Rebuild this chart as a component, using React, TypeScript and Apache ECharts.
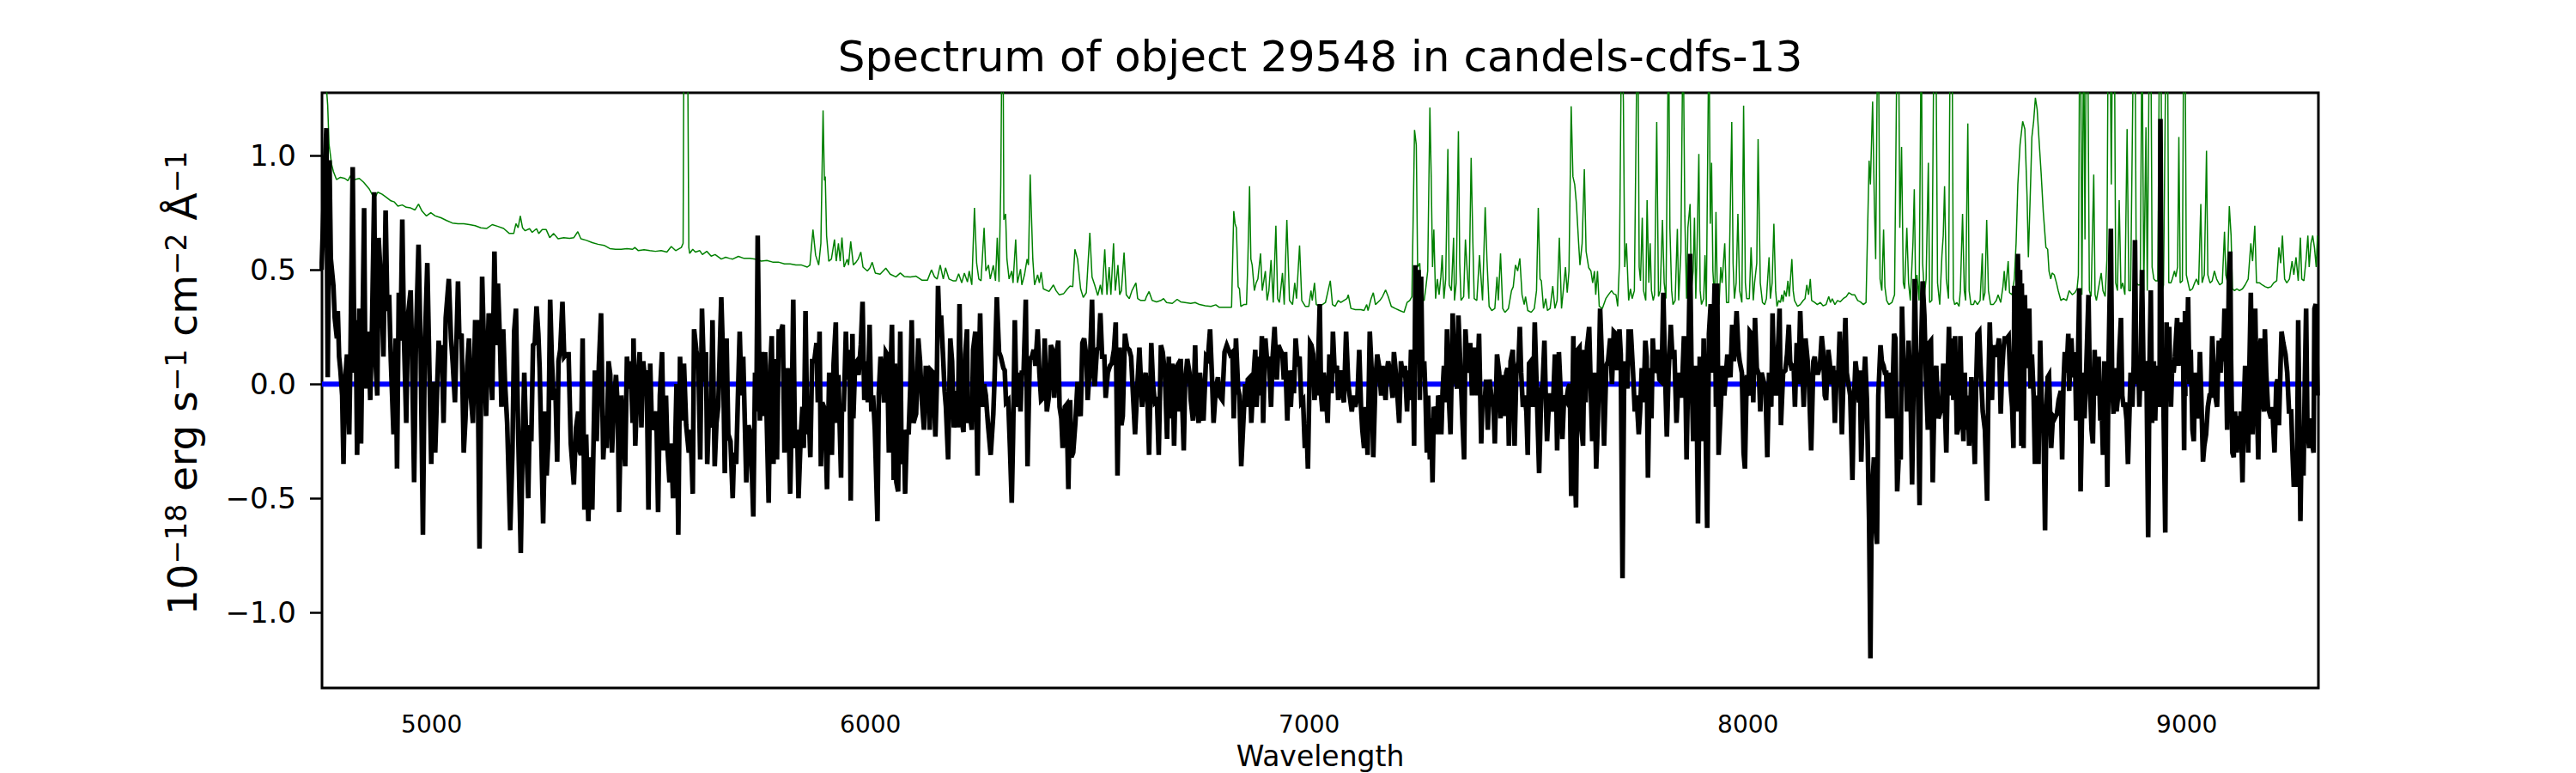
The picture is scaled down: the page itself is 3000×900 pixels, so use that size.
import React, { useEffect, useRef } from "react";
import * as echarts from "echarts";

const titleText = "Spectrum of object 29548 in candels-cdfs-13";
const xLabelText = "Wavelength";
const xTicks = [5000, 6000, 7000, 8000, 9000];
const yTicks = [-1.0, -0.5, 0.0, 0.5, 1.0];
const xRange = [4750, 9300];
const yRange = [-1.33, 1.275];
const zeroLine: [number, number][] = [[4750, 0], [9300, 0]];

// observed flux (black), [wavelength, flux]
const fluxSeg1: [number, number][] = [[4749,0.5],[4757,0.98],[4760,1.12],[4763,0.03],[4765,0.45],[4767,0.98],[4770,0.55],[4776,0.43],[4779,0.29],[4784,0.2],[4786,0.32],[4789,0.12],[4792,0.06],[4796,-0.05],[4799,-0.35],[4802,0.0],[4807,0.13],[4812,-0.22],[4815,0.15],[4820,0.95],[4824,0.05],[4827,0.28],[4830,-0.31],[4835,0.33],[4839,-0.26],[4843,0.33],[4846,0.77],[4849,-0.02],[4852,0.17],[4856,0.23],[4860,-0.07],[4864,0.25],[4869,0.84],[4872,0.1],[4876,-0.05],[4879,0.64],[4883,0.5],[4887,0.32],[4890,0.12],[4895,0.76],[4899,0.32],[4903,0.39],[4907,0.1],[4913,-0.22],[4918,0.2],[4921,-0.37],[4925,0.4],[4929,0.19],[4933,0.72],[4937,0.19],[4942,-0.17],[4946,0.3],[4952,0.41],[4955,0.16],[4960,-0.43],[4964,0.18],[4970,0.61],[4975,0.13],[4980,-0.66],[4984,0.14],[4990,0.53],[4995,0.04],[4999,-0.35],[5003,0.01],[5008,-0.3],[5013,0.02],[5016,0.19],[5019,0.11],[5023,0.17],[5027,-0.17],[5032,0.29],[5039,0.46],[5044,0.2],[5048,0.09],[5053,-0.08],[5060,0.45],[5063,0.2],[5068,0.22],[5073,-0.3],[5077,-0.15],[5081,0.08],[5085,0.2],[5089,-0.05],[5094,-0.17],[5099,0.27],[5104,0.27],[5109,-0.72],[5115,0.47],[5120,0.1],[5124,-0.14],[5130,0.31],[5134,0.09],[5138,-0.07],[5143,0.58],[5147,0.17],[5151,0.44],[5156,0.16],[5159,-0.1],[5163,0.24],[5167,0.01],[5172,-0.17],[5179,-0.64],[5184,-0.3],[5188,0.23],[5192,0.33],[5197,-0.2],[5203,-0.74],[5207,-0.28],[5211,0.05],[5215,-0.22],[5220,-0.5],[5223,-0.18],[5227,-0.25],[5231,0.17],[5235,0.18],[5239,0.34],[5243,0.22],[5246,0.07],[5250,-0.27],[5254,-0.61],[5259,-0.12],[5262,-0.4],[5266,-0.24],[5270,0.37],[5274,0.1],[5278,-0.07],[5282,-0.02],[5286,-0.34],[5289,0.1],[5293,0.15],[5298,0.36],[5302,0.12],[5306,0.13],[5312,0.13],[5317,-0.26],[5324,-0.44],[5329,-0.19],[5334,-0.12],[5337,-0.29],[5340,-0.31],[5344,0.2],[5348,-0.55],[5352,-0.22],[5357,-0.6],[5361,-0.32],[5366,-0.55],[5372,0.06],[5376,-0.25],[5381,0.08],[5386,0.31],[5391,-0.33],[5396,-0.14],[5399,-0.28],[5403,0.1],[5407,0.04],[5411,-0.3],[5415,-0.1],[5420,0.04],[5424,-0.1],[5427,-0.56],[5432,-0.05],[5437,-0.22],[5441,-0.36],[5445,0.12],[5449,-0.02],[5453,0.1],[5458,-0.17],[5460,0.2],[5464,-0.27],[5469,0.01],[5474,0.14],[5478,-0.19],[5482,0.1],[5486,0.02],[5490,0.06],[5494,-0.55],[5498,0.09],[5502,-0.2],[5507,-0.17],[5512,-0.12],[5516,-0.56],[5520,-0.05],[5525,0.14],[5529,-0.29],[5534,-0.05],[5537,-0.27],[5542,-0.43],[5546,-0.26],[5550,-0.5],[5554,-0.35],[5558,0.0],[5562,-0.66],[5566,0.12],[5571,-0.16],[5575,0.09],[5580,-0.18],[5586,-0.3],[5590,-0.2],[5595,-0.48],[5598,0.24],[5603,0.15],[5608,0.08],[5612,-0.33],[5616,0.33],[5621,0.01],[5625,0.14],[5628,-0.35],[5632,-0.12],[5636,-0.19],[5640,0.28],[5645,-0.36],[5649,-0.17],[5653,-0.1],[5660,0.38],[5664,0.12],[5668,-0.39],[5672,0.2],[5676,-0.22]];

const fluxSeg2: [number, number][] = [[5681,-0.25],[5686,-0.5],[5689,-0.3],[5694,-0.35],[5698,-0.05],[5702,0.23],[5706,-0.05],[5710,0.12],[5717,-0.43],[5722,-0.18],[5727,-0.22],[5733,-0.58],[5737,0.05],[5740,-0.12],[5743,0.65],[5748,-0.16],[5751,0.14],[5756,-0.14],[5760,0.14],[5768,-0.52],[5772,0.08],[5775,0.21],[5779,-0.35],[5784,0.11],[5787,-0.33],[5791,0.23],[5796,0.23],[5800,0.26],[5804,-0.3],[5807,-0.15],[5811,0.07],[5817,-0.48],[5820,-0.2],[5824,0.37],[5828,-0.28],[5833,-0.2],[5836,-0.5],[5841,-0.23],[5845,-0.1],[5848,-0.28],[5852,0.32],[5856,-0.22],[5859,-0.1],[5863,-0.32],[5867,0.1],[5872,0.1],[5877,0.18],[5880,-0.08],[5884,0.23],[5887,-0.36],[5890,-0.08],[5894,-0.1],[5898,-0.25],[5901,-0.46],[5906,0.05],[5910,-0.2],[5912,-0.31],[5916,0.09],[5921,0.27],[5924,-0.17],[5927,0.04],[5933,-0.41],[5935,-0.1],[5939,-0.12],[5944,0.23],[5947,0.02],[5952,0.15],[5955,-0.51],[5959,0.22],[5961,-0.15],[5965,0.09],[5969,0.1],[5973,0.04],[5978,0.17],[5982,0.36],[5986,-0.07],[5989,0.1],[5994,-0.08],[5998,0.26],[6002,-0.12],[6006,-0.05],[6010,-0.2],[6016,-0.6],[6019,-0.04],[6023,0.12],[6027,0.05],[6031,-0.08],[6035,0.14],[6038,0.13],[6042,-0.3],[6045,0.0],[6049,0.26],[6053,-0.42],[6056,0.09],[6059,-0.43],[6063,-0.47],[6068,0.23],[6071,-0.35],[6076,-0.2],[6079,-0.48],[6083,-0.2],[6087,-0.22],[6091,0.0],[6094,0.28],[6098,-0.17],[6104,-0.13],[6109,0.2],[6113,0.1],[6117,-0.07],[6122,-0.2],[6126,0.07],[6131,0.07],[6135,-0.2],[6138,0.06],[6143,0.05],[6148,-0.23],[6151,-0.02],[6154,0.43],[6158,0.21],[6161,0.3],[6166,0.1],[6169,-0.03],[6172,-0.1],[6177,-0.33],[6182,0.2],[6186,0.1],[6190,-0.19],[6195,-0.03],[6199,-0.19],[6203,0.35],[6207,-0.15],[6212,-0.21],[6216,0.13],[6220,0.24],[6222,-0.17],[6226,-0.12],[6231,-0.2],[6234,0.15],[6239,0.23],[6244,-0.4],[6247,0.05],[6250,0.31],[6255,-0.1],[6259,0.0],[6263,-0.05],[6268,-0.18],[6274,-0.31],[6280,-0.13],[6283,0.03],[6288,0.38],[6293,0.14],[6297,0.12],[6303,0.07],[6306,0.06],[6309,-0.08],[6314,-0.07],[6318,-0.28],[6322,-0.52],[6325,-0.23],[6329,0.28],[6333,-0.1],[6338,0.05],[6342,-0.12],[6345,0.05],[6349,0.05],[6354,0.37],[6358,-0.36],[6363,0.11],[6368,0.12],[6372,0.15],[6376,0.08],[6381,0.24],[6385,0.05],[6389,-0.07],[6394,-0.06],[6397,0.2],[6402,-0.12],[6407,-0.05],[6411,0.17],[6415,0.15],[6419,-0.06],[6423,0.12],[6428,0.19],[6431,-0.1],[6435,-0.15],[6438,-0.28],[6443,-0.1],[6447,-0.09],[6451,-0.46],[6455,-0.07],[6458,-0.32],[6462,-0.3],[6467,-0.17],[6472,0.01],[6475,-0.1],[6479,-0.14],[6483,0.18],[6487,0.2],[6492,0.12],[6495,-0.07],[6500,0.08],[6505,0.37],[6508,0.05],[6511,-0.01],[6516,0.15],[6520,0.16],[6524,0.31],[6528,0.12],[6533,0.12],[6536,-0.06],[6541,0.05],[6546,0.08],[6550,0.09],[6555,0.15],[6559,0.27],[6563,-0.4],[6568,0.16],[6572,-0.18],[6575,-0.14],[6580,0.22],[6585,0.16],[6590,0.15],[6594,0.12]];

const fluxSeg3: [number, number][] = [[6603,-0.22],[6609,0.02],[6613,0.16],[6619,-0.1],[6622,-0.05],[6627,0.05],[6631,-0.05],[6635,-0.31],[6640,0.18],[6644,0.0],[6648,-0.08],[6653,-0.07],[6657,-0.31],[6662,0.17],[6666,0.14],[6671,0.05],[6676,-0.24],[6680,0.12],[6683,-0.15],[6688,0.09],[6692,-0.27],[6696,0.07],[6699,0.08],[6704,-0.12],[6707,0.11],[6710,-0.05],[6714,-0.29],[6717,0.0],[6722,0.11],[6727,0.05],[6730,-0.07],[6735,-0.16],[6740,0.17],[6743,-0.08],[6748,-0.17],[6751,0.05],[6755,-0.05],[6759,-0.16],[6765,0.12],[6769,0.11],[6774,0.24],[6778,0.05],[6782,-0.17],[6787,-0.02],[6792,0.03],[6795,-0.05],[6802,-0.07],[6807,0.14],[6812,0.17],[6816,0.15],[6820,0.13],[6825,0.14],[6828,-0.15],[6833,0.2],[6838,-0.02],[6841,-0.05],[6845,-0.36],[6849,-0.2],[6854,0.0],[6857,-0.1],[6860,0.02],[6865,0.03],[6868,-0.17],[6874,0.06],[6877,0.15],[6880,-0.1],[6885,0.12],[6888,-0.05],[6892,0.21],[6895,-0.17],[6900,0.2],[6904,0.1],[6908,0.12],[6913,-0.1],[6916,0.1],[6921,0.25],[6926,0.02],[6930,0.17],[6934,0.15],[6939,0.13],[6942,0.02],[6945,0.14],[6950,-0.16],[6954,0.06],[6958,-0.1],[6962,0.06],[6965,-0.04],[6969,0.2],[6973,0.1],[6978,0.12],[6982,-0.08],[6986,-0.07],[6990,-0.28],[6994,-0.19],[6997,-0.37],[7002,0.18],[7005,0.17],[7009,0.13],[7012,-0.07],[7016,0.03],[7018,-0.05],[7024,0.35],[7027,-0.05],[7030,-0.12],[7033,0.05],[7037,-0.02],[7042,-0.17],[7046,0.13],[7051,-0.04],[7054,0.23],[7058,0.05],[7063,0.08],[7066,-0.07],[7071,0.06],[7074,-0.02],[7079,-0.08],[7084,0.23],[7089,0.0],[7092,-0.05],[7097,-0.12],[7101,-0.05],[7105,-0.1],[7110,-0.05],[7114,0.15],[7118,-0.1],[7121,-0.2],[7125,-0.28],[7129,-0.1],[7133,-0.31],[7138,0.23],[7142,0.07],[7146,-0.32],[7151,0.02],[7155,0.13],[7159,0.08],[7164,-0.05],[7167,0.08],[7174,-0.07],[7177,0.06],[7180,0.1],[7185,0.04],[7190,-0.06],[7193,0.14],[7196,0.08],[7200,-0.02],[7205,-0.17],[7209,0.1],[7214,0.03],[7218,0.08],[7223,-0.12],[7226,0.06],[7229,-0.07],[7232,0.15],[7236,0.1],[7239,-0.27],[7242,0.52],[7245,0.35],[7249,0.5],[7252,-0.07],[7255,0.47],[7258,0.05],[7262,0.1],[7265,-0.05],[7268,-0.3],[7271,-0.05],[7275,-0.33],[7278,-0.15],[7281,-0.43],[7284,-0.1],[7288,-0.12],[7291,-0.22],[7294,-0.05],[7298,-0.08],[7301,-0.22],[7304,-0.03],[7307,0.08],[7311,-0.08],[7314,0.24],[7318,-0.05],[7322,-0.22],[7327,0.31],[7331,0.05],[7337,-0.02],[7340,0.3],[7345,0.05],[7348,-0.1],[7353,-0.33],[7356,0.24],[7360,0.1],[7363,0.05],[7367,0.18],[7371,-0.05],[7375,0.15],[7378,0.15],[7382,-0.05],[7387,0.22],[7392,-0.26],[7395,-0.05],[7400,-0.08],[7403,0.02],[7407,-0.2],[7411,0.02],[7415,-0.05],[7420,-0.1],[7423,-0.26],[7428,0.13],[7433,0.05],[7436,-0.15],[7440,0.04],[7444,-0.14],[7449,0.05],[7452,0.07],[7455,-0.27],[7459,0.1],[7464,0.15],[7468,-0.27],[7472,0.05],[7477,0.1],[7480,0.25],[7483,0.05],[7487,-0.1],[7491,-0.05],[7495,-0.12],[7498,-0.31],[7501,0.09],[7505,0.1],[7510,-0.1],[7514,0.27]];

const fluxSeg4: [number, number][] = [[7524,-0.39],[7529,-0.02],[7532,0.0],[7536,0.19],[7539,-0.05],[7542,-0.25],[7547,-0.05],[7550,-0.05],[7555,-0.12],[7560,0.13],[7563,-0.05],[7565,-0.29],[7569,0.14],[7573,-0.03],[7577,-0.24],[7581,-0.05],[7586,-0.07],[7590,-0.02],[7594,0.0],[7597,-0.49],[7602,0.21],[7605,-0.34],[7608,-0.54],[7612,0.15],[7616,0.16],[7619,-0.17],[7624,-0.27],[7627,0.15],[7630,-0.08],[7633,0.16],[7638,0.25],[7642,-0.05],[7645,-0.25],[7650,0.05],[7654,-0.37],[7658,-0.15],[7663,0.33],[7668,0.05],[7672,-0.27],[7677,0.08],[7681,0.1],[7686,0.2],[7690,0.0],[7694,0.23],[7699,0.22],[7702,0.06],[7707,0.24],[7710,0.13],[7714,-0.85],[7718,0.1],[7721,0.05],[7725,-0.02],[7728,0.23],[7733,0.23],[7738,0.05],[7742,-0.12],[7746,-0.05],[7751,-0.22],[7754,-0.12],[7758,0.07],[7762,-0.08],[7766,0.19],[7769,0.12],[7772,-0.41],[7776,0.07],[7780,-0.15],[7783,0.2],[7787,0.05],[7791,0.07],[7794,0.15],[7798,0.02],[7803,0.01],[7807,0.4],[7811,0.05],[7815,-0.23],[7819,0.05],[7824,0.26],[7828,0.11],[7832,0.15],[7837,-0.17],[7842,0.05],[7845,-0.05],[7849,-0.05],[7854,0.21],[7857,0.06],[7860,-0.33],[7864,0.1],[7868,0.57],[7871,0.1],[7875,-0.25],[7878,-0.05],[7881,0.08],[7884,-0.25],[7886,-0.61],[7890,0.12],[7892,-0.12],[7896,-0.25],[7899,0.2],[7903,-0.15],[7907,-0.63],[7911,0.22],[7915,0.35],[7919,0.05],[7924,0.44],[7927,-0.1],[7930,0.44],[7933,-0.31],[7938,-0.1],[7942,0.08],[7946,-0.05],[7950,0.05],[7953,0.13],[7956,0.07],[7960,0.03],[7964,0.26],[7968,0.1],[7971,0.2],[7974,0.32],[7978,0.15],[7981,0.1],[7986,0.05],[7990,-0.3],[7993,-0.37],[7997,0.04],[8001,-0.05],[8004,0.23],[8008,0.22],[8012,-0.08],[8016,0.29],[8020,0.07],[8025,0.04],[8028,-0.12],[8031,0.05],[8036,0.01],[8040,-0.03],[8044,-0.32],[8048,0.05],[8053,-0.1],[8056,0.31],[8059,0.05],[8064,-0.05],[8067,0.09],[8072,0.33],[8075,-0.18],[8080,0.05],[8085,0.06],[8089,0.13],[8093,0.26],[8096,0.1],[8100,0.06],[8104,0.09],[8107,-0.1],[8111,0.18],[8115,0.0],[8119,0.32],[8124,0.05],[8127,-0.1],[8131,0.2],[8136,0.1],[8139,0.0],[8144,-0.29],[8149,0.1],[8152,0.12],[8156,0.05],[8160,0.05],[8164,0.08],[8168,0.21],[8171,0.15],[8175,-0.05],[8178,-0.07],[8183,0.15],[8186,0.1],[8190,0.0],[8194,0.08],[8198,-0.17],[8202,0.05],[8206,0.05],[8209,0.23],[8214,-0.22],[8218,0.06],[8222,0.29],[8225,0.05],[8229,0.0],[8233,-0.05],[8238,-0.42],[8241,-0.1],[8245,0.1],[8248,0.05],[8253,-0.08],[8255,0.06],[8258,-0.34],[8263,-0.02],[8267,0.12],[8271,-0.07],[8276,-0.6],[8279,-1.2],[8282,-0.5],[8287,-0.32],[8291,-0.62],[8294,-0.7],[8297,-0.05],[8302,0.17],[8305,0.1],[8309,0.08],[8312,0.05],[8315,0.05],[8318,-0.15],[8321,0.05],[8325,-0.05],[8328,-0.15],[8333,0.22],[8336,0.2],[8340,-0.47],[8344,-0.3],[8348,-0.33],[8351,0.34],[8355,0.05],[8359,0.11],[8362,-0.12],[8366,0.19],[8370,0.0],[8374,-0.44],[8378,0.09],[8380,0.46],[8383,0.15],[8387,0.05],[8391,-0.53],[8394,0.1],[8398,0.45],[8402,0.3],[8406,0.0],[8410,-0.2],[8413,0.18],[8417,0.19],[8421,-0.43],[8426,0.05],[8429,0.08],[8434,-0.15]];

const fluxSeg5: [number, number][] = [[8442,-0.1],[8445,0.09],[8448,-0.05],[8452,-0.3],[8455,0.02],[8458,0.25],[8461,-0.05],[8465,0.2],[8468,-0.07],[8472,0.21],[8476,-0.22],[8481,-0.18],[8484,0.21],[8487,-0.05],[8491,-0.25],[8494,0.05],[8497,-0.2],[8501,-0.05],[8504,-0.27],[8509,0.03],[8514,-0.2],[8517,-0.35],[8520,0.0],[8523,0.22],[8527,0.23],[8530,0.08],[8535,-0.12],[8540,-0.2],[8545,-0.51],[8548,0.0],[8551,0.27],[8556,-0.07],[8559,0.17],[8564,0.12],[8569,0.16],[8572,0.2],[8576,-0.13],[8579,0.05],[8582,0.15],[8585,0.2],[8590,0.2],[8594,0.21],[8598,0.0],[8602,-0.1],[8605,-0.28],[8607,0.43],[8609,0.16],[8612,-0.12],[8615,0.57],[8618,0.15],[8620,0.5],[8623,-0.27],[8624,0.44],[8628,-0.28],[8631,0.39],[8634,0.07],[8638,0.22],[8641,0.33],[8644,-0.02],[8647,0.13],[8651,-0.05],[8654,-0.35],[8658,-0.05],[8662,-0.35],[8666,0.19],[8670,-0.14],[8673,-0.1],[8677,-0.64],[8680,-0.1],[8683,0.03],[8686,0.04],[8691,-0.28],[8695,-0.14],[8699,-0.15],[8704,-0.13],[8708,-0.07],[8713,-0.03],[8716,-0.33],[8719,0.0],[8722,0.14],[8726,0.05],[8730,0.22],[8732,-0.03],[8737,0.2],[8741,0.03],[8745,0.14],[8748,-0.16],[8752,0.1],[8755,0.42],[8758,-0.47],[8763,0.05],[8767,-0.15],[8771,0.07],[8776,0.39],[8779,0.0],[8783,-0.2],[8786,-0.26],[8790,0.15],[8793,-0.05],[8796,0.05],[8799,0.12],[8803,-0.16],[8806,-0.1],[8809,-0.31],[8812,0.1],[8816,0.0],[8819,-0.45],[8822,0.12],[8827,0.68],[8830,0.0],[8833,-0.13],[8836,0.07],[8840,-0.12],[8843,-0.06],[8846,0.13],[8850,0.29],[8853,-0.05],[8856,-0.1],[8859,-0.08],[8863,-0.16],[8866,-0.35],[8869,-0.15],[8872,0.05],[8876,-0.1],[8879,0.08],[8882,0.63],[8885,0.0],[8889,0.12],[8892,-0.1],[8895,0.1],[8898,0.5],[8902,-0.03],[8905,0.08],[8908,0.1],[8912,-0.67],[8915,0.07],[8918,0.41],[8921,-0.17],[8925,0.1],[8928,-0.16],[8931,0.08],[8934,0.05],[8938,-0.1],[8940,1.16],[8943,0.1],[8947,-0.1],[8951,-0.65],[8954,0.27],[8957,0.05],[8960,0.25],[8964,-0.1],[8967,0.1],[8970,0.05],[8973,0.12],[8978,0.29],[8981,0.08],[8985,0.27],[8988,0.15],[8991,0.27],[8994,-0.29],[8996,0.32],[9000,0.05],[9003,0.38],[9006,0.0],[9009,0.15],[9013,-0.2],[9016,-0.25],[9019,0.05],[9022,-0.1],[9026,-0.15],[9030,0.14],[9033,-0.05],[9037,-0.34],[9040,-0.27],[9044,-0.22],[9048,-0.1],[9052,-0.05],[9055,-0.05],[9058,0.21],[9062,0.05],[9065,-0.05],[9069,-0.1],[9073,0.19],[9077,0.05],[9080,0.2],[9083,0.1],[9086,0.33],[9090,0.05],[9092,-0.2],[9096,0.47],[9099,0.58],[9101,0.1],[9104,-0.3],[9107,-0.32],[9110,-0.12],[9114,-0.3],[9117,-0.14],[9120,-0.27],[9123,-0.12],[9127,-0.43],[9130,-0.1],[9133,0.08],[9137,-0.1],[9140,-0.3],[9143,0.1],[9146,0.4],[9150,-0.22],[9153,0.05],[9156,0.33],[9159,0.0],[9163,-0.33],[9166,0.15],[9169,0.2],[9172,-0.05],[9176,-0.12],[9178,0.24],[9181,0.05],[9185,-0.1],[9192,-0.15],[9195,-0.1],[9200,-0.3],[9204,0.0],[9207,0.02],[9210,-0.18],[9214,0.1],[9216,0.23],[9220,0.18],[9225,0.13],[9229,0.05],[9233,-0.12],[9238,-0.12],[9241,-0.3],[9244,-0.45],[9247,-0.35],[9251,-0.45],[9254,0.28],[9257,-0.22],[9259,-0.6],[9262,-0.2],[9266,-0.4],[9269,0.0],[9272,0.33],[9275,-0.2],[9279,-0.28],[9282,-0.15],[9285,-0.25],[9289,-0.3],[9291,0.33],[9294,0.35],[9298,-0.05]];

// noise / sky spectrum (green), [wavelength, flux]
const noiseSeg1: [number, number][] = [[4752,1.6],[4760,1.3],[4763,1.22],[4766,1.05],[4772,0.96],[4776,0.93],[4783,0.895],[4792,0.905],[4802,0.9],[4809,0.89],[4815,0.912],[4825,0.895],[4835,0.9],[4845,0.883],[4858,0.853],[4864,0.831],[4871,0.817],[4877,0.84],[4887,0.831],[4897,0.817],[4907,0.802],[4915,0.797],[4923,0.779],[4933,0.784],[4942,0.774],[4952,0.771],[4962,0.762],[4970,0.788],[4978,0.757],[4988,0.736],[4998,0.75],[5008,0.736],[5021,0.728],[5034,0.716],[5047,0.705],[5060,0.702],[5073,0.702],[5086,0.698],[5099,0.693],[5112,0.684],[5125,0.681],[5138,0.698],[5151,0.69],[5164,0.681],[5177,0.659],[5187,0.659],[5192,0.702],[5197,0.684],[5202,0.736],[5207,0.684],[5213,0.671],[5223,0.68],[5229,0.664],[5239,0.68],[5244,0.659],[5252,0.676],[5261,0.676],[5269,0.641],[5278,0.659],[5288,0.636],[5301,0.641],[5314,0.638],[5324,0.641],[5333,0.667],[5340,0.636],[5353,0.629],[5366,0.619],[5379,0.612],[5393,0.607],[5406,0.593],[5419,0.59],[5432,0.59],[5445,0.593],[5458,0.59],[5463,0.598],[5471,0.584],[5484,0.588],[5497,0.584],[5510,0.581],[5523,0.584],[5536,0.578],[5546,0.602],[5556,0.584],[5569,0.598],[5573,0.616],[5575,1.6],[5583,1.6],[5586,0.598],[5588,0.572],[5595,0.59],[5601,0.578],[5611,0.584],[5617,0.567],[5627,0.581],[5637,0.56],[5646,0.567],[5660,0.547],[5670,0.555],[5679,0.55]];

const noiseSeg2: [number, number][] = [[5686,0.547],[5699,0.559],[5712,0.55],[5725,0.55],[5738,0.547],[5751,0.538],[5764,0.541],[5777,0.534],[5790,0.534],[5804,0.526],[5817,0.526],[5830,0.521],[5843,0.521],[5856,0.512],[5862,0.521],[5869,0.676],[5875,0.564],[5882,0.521],[5887,0.616],[5892,1.198],[5895,0.891],[5897,0.908],[5900,0.65],[5905,0.538],[5911,0.547],[5918,0.633],[5922,0.538],[5927,0.616],[5931,0.538],[5935,0.641],[5940,0.512],[5947,0.547],[5950,0.521],[5955,0.624],[5961,0.521],[5967,0.533],[5972,0.547],[5978,0.578],[5983,0.512],[5993,0.495],[5999,0.509],[6004,0.533],[6011,0.486],[6022,0.481],[6035,0.507],[6045,0.481],[6058,0.469],[6068,0.486],[6077,0.471],[6091,0.469],[6104,0.472],[6117,0.455],[6130,0.455],[6139,0.5],[6146,0.469],[6152,0.46],[6159,0.521],[6166,0.46],[6171,0.509],[6179,0.46],[6188,0.452],[6195,0.452],[6201,0.483],[6208,0.443],[6214,0.486],[6221,0.447],[6225,0.495],[6231,0.434],[6237,0.771],[6242,0.529],[6247,0.46],[6252,0.452],[6259,0.684],[6263,0.495],[6269,0.521],[6273,0.46],[6280,0.52],[6285,0.452],[6289,0.641],[6293,0.447],[6297,0.874],[6300,1.6],[6302,1.6],[6304,0.719],[6308,0.745],[6311,0.547],[6316,0.46],[6322,0.495],[6325,0.443],[6331,0.633],[6335,0.443],[6342,0.503],[6345,0.434],[6351,0.478],[6357,0.547],[6360,0.521],[6364,0.917],[6370,0.547],[6374,0.434],[6381,0.478],[6385,0.443],[6389,0.49],[6394,0.417],[6407,0.405],[6417,0.434],[6423,0.409],[6430,0.391],[6440,0.395],[6449,0.417],[6455,0.429],[6461,0.426],[6466,0.59],[6472,0.547],[6479,0.417],[6485,0.379],[6492,0.4],[6500,0.662],[6505,0.469],[6511,0.434],[6518,0.388],[6524,0.434],[6528,0.391],[6534,0.59],[6539,0.391],[6544,0.512],[6548,0.391],[6554,0.616],[6558,0.409],[6564,0.521],[6568,0.391],[6572,0.409],[6578,0.576],[6583,0.391],[6590,0.374],[6596,0.409]];

const noiseSeg3: [number, number][] = [[6605,0.443],[6609,0.374],[6616,0.366],[6626,0.366],[6629,0.383],[6635,0.405],[6642,0.366],[6652,0.36],[6662,0.366],[6668,0.374],[6675,0.357],[6688,0.353],[6699,0.371],[6707,0.36],[6717,0.357],[6730,0.353],[6740,0.357],[6750,0.348],[6763,0.343],[6776,0.34],[6787,0.347],[6795,0.336],[6808,0.336],[6823,0.336],[6828,0.757],[6831,0.702],[6834,0.684],[6838,0.426],[6841,0.417],[6844,0.34],[6851,0.348],[6857,0.348],[6860,0.529],[6864,0.866],[6867,0.547],[6870,0.521],[6875,0.409],[6879,0.443],[6883,0.46],[6889,0.572],[6893,0.409],[6900,0.495],[6904,0.366],[6908,0.409],[6913,0.543],[6918,0.357],[6924,0.693],[6928,0.374],[6932,0.357],[6939,0.486],[6943,0.348],[6949,0.719],[6955,0.366],[6962,0.348],[6967,0.443],[6971,0.374],[6978,0.607],[6983,0.366],[6991,0.34],[6999,0.34],[7004,0.409],[7007,0.366],[7012,0.443],[7016,0.348],[7024,0.34],[7030,0.348],[7037,0.357],[7043,0.409],[7048,0.452],[7053,0.348],[7059,0.34],[7066,0.366],[7072,0.357],[7079,0.366],[7086,0.374],[7089,0.391],[7095,0.331],[7105,0.326],[7118,0.326],[7125,0.322],[7131,0.348],[7134,0.322],[7141,0.374],[7146,0.4],[7151,0.348],[7161,0.366],[7167,0.383],[7174,0.412],[7180,0.383],[7187,0.34],[7196,0.331],[7206,0.322],[7216,0.314],[7223,0.357],[7229,0.366],[7234,0.383],[7238,0.857],[7240,1.112],[7244,1.047],[7247,0.512],[7252,0.529],[7255,0.374],[7262,0.366],[7266,0.426],[7270,0.495],[7275,1.21],[7278,0.908],[7281,0.512],[7284,0.676],[7288,0.374],[7292,0.46],[7296,0.391],[7300,0.469],[7303,0.564],[7307,0.374],[7311,0.46],[7316,1.029],[7319,0.434],[7324,0.409],[7329,0.641],[7331,0.366],[7335,0.443],[7340,1.107],[7343,0.529],[7346,0.366],[7352,0.383],[7356,0.633],[7360,0.495],[7364,0.374],[7369,0.99],[7373,0.616],[7376,0.374],[7382,0.366],[7388,0.564],[7392,0.452],[7395,0.366],[7401,0.774],[7405,0.547],[7410,0.34],[7416,0.322],[7423,0.331],[7428,0.469],[7431,0.366],[7436,0.572],[7441,0.331],[7446,0.314],[7454,0.331],[7461,0.409],[7465,0.426],[7470,0.521],[7475,0.495],[7480,0.55],[7485,0.391],[7490,0.348],[7493,0.383],[7498,0.322],[7506,0.314],[7513,0.331]];

const noiseSeg4: [number, number][] = [[7518,0.409],[7522,0.771],[7526,0.46],[7529,0.452],[7534,0.331],[7539,0.374],[7543,0.322],[7549,0.331],[7555,0.429],[7560,0.331],[7565,0.366],[7570,0.641],[7575,0.331],[7579,0.409],[7584,0.512],[7588,0.4],[7592,0.495],[7597,1.216],[7601,0.908],[7605,0.874],[7609,0.788],[7614,0.616],[7617,0.521],[7622,0.616],[7627,0.94],[7631,0.581],[7637,0.509],[7642,0.495],[7646,0.443],[7650,0.495],[7653,0.391],[7657,0.495],[7661,0.34],[7668,0.331],[7676,0.374],[7682,0.391],[7689,0.409],[7694,0.395],[7699,0.391],[7703,0.34],[7707,0.529],[7710,1.167],[7712,1.6],[7716,1.236],[7719,0.512],[7723,0.616],[7728,0.366],[7732,0.417],[7736,0.374],[7741,0.409],[7746,1.3],[7749,1.6],[7752,0.512],[7755,0.452],[7759,0.728],[7762,0.409],[7767,0.366],[7770,0.805],[7774,0.443],[7777,0.616],[7780,0.409],[7784,0.366],[7787,0.391],[7792,1.147],[7796,0.383],[7800,0.409],[7805,0.719],[7809,0.443],[7813,0.374],[7819,1.6],[7822,0.684],[7826,0.409],[7829,0.348],[7834,0.366],[7839,0.679],[7842,0.366],[7847,0.581],[7852,1.6],[7856,0.736],[7860,0.374],[7863,0.684],[7868,0.788],[7871,0.409],[7875,0.495],[7878,0.728],[7881,0.374],[7883,0.512],[7888,1.007],[7891,0.409],[7894,0.348],[7899,0.374],[7902,0.564],[7905,0.34],[7911,1.6],[7914,0.702],[7917,0.969],[7920,0.495],[7924,0.357],[7927,0.753],[7930,0.409],[7934,0.348],[7938,0.512],[7941,0.443],[7947,0.616],[7951,0.357],[7956,0.357],[7963,1.147],[7966,0.529],[7969,0.374],[7973,0.443],[7977,0.745],[7981,0.409],[7986,0.357],[7990,1.219],[7994,0.443],[7997,0.374],[8003,0.374],[8007,0.598],[8012,0.366],[8015,0.443],[8020,0.529],[8023,1.072],[8028,0.443],[8033,0.357],[8038,0.348],[8042,0.374],[8048,0.555],[8051,0.374],[8055,0.443],[8059,0.702],[8063,0.409],[8066,0.34],[8070,0.366],[8074,0.357],[8077,0.391],[8080,0.36],[8083,0.409],[8087,0.383],[8091,0.452],[8094,0.383],[8100,0.547],[8103,0.409],[8106,0.366],[8113,0.34],[8119,0.348],[8126,0.366],[8130,0.374],[8134,0.434],[8138,0.391],[8142,0.46],[8145,0.366],[8152,0.357],[8158,0.348],[8165,0.357],[8171,0.343],[8178,0.348],[8184,0.383],[8188,0.357],[8192,0.374],[8198,0.348],[8204,0.366],[8210,0.36],[8217,0.374],[8224,0.383],[8230,0.4],[8237,0.391],[8243,0.391],[8250,0.366],[8256,0.36],[8263,0.348],[8269,0.357],[8276,0.978],[8279,0.874],[8284,1.236],[8288,0.788],[8291,0.547],[8294,1.236],[8297,1.6],[8301,0.46],[8305,0.409],[8309,0.676],[8312,0.426],[8316,0.366],[8321,0.348],[8328,0.357],[8334,0.391],[8340,1.6],[8343,1.6],[8346,0.684],[8350,1.038],[8354,0.443],[8357,0.417],[8362,0.684],[8366,0.443],[8370,0.366],[8376,0.62],[8379,0.853],[8382,0.426],[8385,0.478],[8390,0.366],[8395,1.6],[8398,0.529],[8402,0.391],[8406,0.46],[8411,0.969],[8414,0.357],[8419,0.366],[8424,1.6],[8428,1.6],[8432,0.443],[8437,0.348]];

const noiseSeg5: [number, number][] = [[8442,0.564],[8445,0.65],[8448,0.866],[8452,0.46],[8457,0.374],[8461,1.6],[8465,1.6],[8468,0.374],[8471,0.348],[8476,0.357],[8481,0.34],[8484,0.409],[8489,0.745],[8493,0.409],[8496,0.366],[8501,1.141],[8504,0.409],[8508,0.348],[8514,0.348],[8517,0.366],[8523,0.348],[8529,0.366],[8534,0.572],[8536,0.366],[8540,0.4],[8544,0.719],[8548,0.409],[8553,0.348],[8559,0.348],[8566,0.366],[8570,0.391],[8576,0.357],[8581,0.426],[8584,0.495],[8587,0.409],[8593,0.538],[8596,0.4],[8602,0.391],[8607,0.46],[8611,0.616],[8615,0.874],[8620,1.047],[8626,1.15],[8631,1.116],[8636,0.822],[8639,0.555],[8644,0.874],[8647,1.081],[8651,1.15],[8655,1.253],[8659,1.202],[8664,1.047],[8668,0.926],[8673,0.753],[8679,0.598],[8683,0.59],[8686,0.495],[8690,0.46],[8693,0.486],[8698,0.478],[8703,0.443],[8707,0.409],[8713,0.366],[8719,0.374],[8726,0.366],[8732,0.409],[8739,0.391],[8745,0.4],[8750,0.417],[8753,0.478],[8756,1.6],[8758,1.6],[8761,0.391],[8765,1.6],[8768,0.633],[8771,1.6],[8774,1.6],[8778,0.409],[8782,0.383],[8788,0.917],[8791,0.391],[8794,0.366],[8801,0.443],[8805,0.486],[8809,0.409],[8814,0.383],[8818,0.547],[8821,1.6],[8825,1.6],[8828,0.874],[8831,1.6],[8835,1.6],[8838,0.443],[8842,0.409],[8846,0.805],[8850,0.417],[8854,0.443],[8859,0.391],[8864,1.116],[8868,0.409],[8872,0.409],[8879,1.6],[8882,1.6],[8885,0.443],[8889,0.434],[8894,0.434],[8898,1.6],[8902,0.409],[8907,1.124],[8910,0.409],[8915,1.6],[8918,1.6],[8921,0.512],[8925,0.46],[8929,0.452],[8934,0.452],[8938,1.6],[8941,1.6],[8944,0.409],[8947,0.434],[8953,1.6],[8956,1.6],[8959,0.443],[8964,0.443],[8967,0.46],[8972,0.495],[8975,0.469],[8979,0.512],[8982,1.081],[8985,0.443],[8990,0.452],[8993,1.6],[8996,1.6],[8999,0.478],[9003,0.443],[9007,0.409],[9013,0.417],[9018,0.443],[9022,0.46],[9027,0.434],[9032,0.788],[9035,0.443],[9040,0.478],[9045,1.021],[9048,0.478],[9053,0.443],[9058,0.452],[9063,0.495],[9068,0.46],[9075,0.434],[9081,0.443],[9086,0.667],[9089,0.478],[9092,0.452],[9097,0.779],[9101,0.65],[9104,0.417],[9109,0.409],[9114,0.417],[9120,0.409],[9127,0.417],[9133,0.434],[9140,0.46],[9146,0.616],[9150,0.538],[9155,0.693],[9159,0.443],[9166,0.443],[9172,0.434],[9179,0.426],[9185,0.422],[9192,0.426],[9198,0.443],[9205,0.452],[9210,0.598],[9214,0.529],[9218,0.65],[9223,0.46],[9228,0.443],[9234,0.46],[9240,0.538],[9244,0.478],[9249,0.555],[9254,0.452],[9259,0.641],[9262,0.46],[9267,0.452],[9272,0.547],[9276,0.65],[9279,0.512],[9283,0.616],[9287,0.65],[9291,0.598],[9295,0.512],[9298,0.65]];

const FONT = "DejaVu Sans";

function fmtY(v: number): string {
  const s = Math.abs(v).toFixed(1);
  return v < 0 ? "\u2212" + s : s;
}

export default function App() {
  const ref = useRef<HTMLDivElement>(null);
  useEffect(() => {
    document.body.style.margin = "0";
    if (!ref.current) return;
    const chart = echarts.init(ref.current, null, { renderer: "svg" });
    const flux = [...fluxSeg1, ...fluxSeg2, ...fluxSeg3, ...fluxSeg4, ...fluxSeg5];
    const noise = [...noiseSeg1, ...noiseSeg2, ...noiseSeg3, ...noiseSeg4, ...noiseSeg5];
    chart.setOption({
      animation: false,
      backgroundColor: "#ffffff",
      grid: {
        left: 375,
        right: 300,
        top: 108,
        bottom: 99,
        show: true,
        borderColor: "#000",
        borderWidth: 3,
        backgroundColor: "transparent",
      },
      xAxis: {
        type: "value",
        min: xRange[0],
        max: xRange[1],
        axisLine: { show: false },
        splitLine: { show: false },
        axisTick: {
          show: true,
          customValues: xTicks,
          length: 14,
          lineStyle: { color: "#000", width: 2.5 },
        },
        axisLabel: {
          customValues: xTicks,
          fontFamily: FONT,
          fontSize: 28,
          color: "#000",
          margin: 28,
          formatter: (v: number) => String(v),
        },
      },
      yAxis: {
        type: "value",
        min: yRange[0],
        max: yRange[1],
        axisLine: { show: false },
        splitLine: { show: false },
        axisTick: {
          show: true,
          customValues: yTicks,
          length: 14,
          lineStyle: { color: "#000", width: 2.5 },
        },
        axisLabel: {
          customValues: yTicks,
          fontFamily: FONT,
          fontSize: 34,
          color: "#000",
          margin: 30,
          formatter: (v: number) => fmtY(v),
        },
      },
      series: [
        {
          name: "noise",
          type: "line",
          data: noise,
          showSymbol: false,
          symbol: "none",
          silent: true,
          clip: true,
          lineStyle: { color: "#008000", width: 1.5 },
          z: 2,
        },
        {
          name: "zero",
          type: "line",
          data: zeroLine,
          showSymbol: false,
          symbol: "none",
          silent: true,
          clip: true,
          lineStyle: { color: "#0000ff", width: 6 },
          z: 3,
        },
        {
          name: "flux",
          type: "line",
          data: flux,
          showSymbol: false,
          symbol: "none",
          silent: true,
          clip: true,
          lineStyle: { color: "#000000", width: 5.5, join: "miter" },
          z: 4,
        },
      ],
      graphic: [
        {
          type: "text",
          x: 1537.5,
          y: 66,
          style: {
            text: titleText,
            fontFamily: FONT,
            fontSize: 50,
            fill: "#000",
            align: "center",
            verticalAlign: "middle",
          },
        },
        {
          type: "text",
          x: 1537.5,
          y: 880,
          style: {
            text: xLabelText,
            fontFamily: FONT,
            fontSize: 33,
            fill: "#000",
            align: "center",
            verticalAlign: "middle",
          },
        },
        {
          type: "text",
          x: 212,
          y: 446,
          rotation: Math.PI / 2,
          style: {
            text: "10{s|\u221218} erg s{s|\u22121} cm{s|\u22122} \u00c5{s|\u22121}",
            fontFamily: FONT,
            fontSize: 47,
            fill: "#000",
            align: "center",
            verticalAlign: "middle",
            rich: {
              s: {
                fontFamily: FONT,
                fontSize: 33,
                fill: "#000",
                verticalAlign: "top",
              },
            },
          },
        },
      ],
    });
    return () => chart.dispose();
  }, []);
  return <div ref={ref} style={{ width: 3000, height: 900 }} />;
}
